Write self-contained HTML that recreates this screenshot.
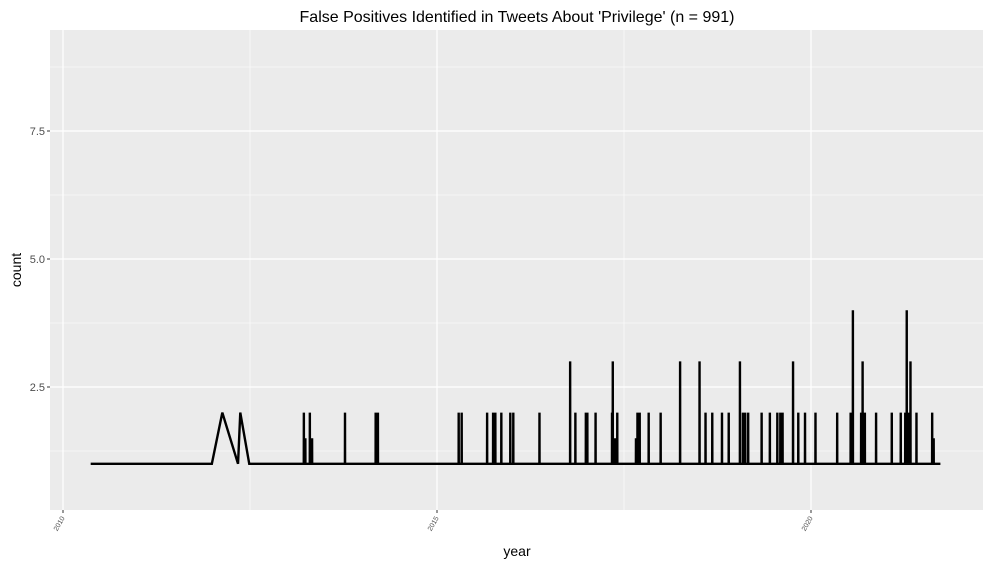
<!DOCTYPE html>
<html><head><meta charset="utf-8"><style>
body{margin:0;background:#fff;}
svg{display:block;font-family:"Liberation Sans",sans-serif;}
</style></head><body>
<svg id="chart" width="991" height="566"></svg>
<script>
const xTicks=[2010,2015,2020];
const xTickLabels=["2010","2015","2020"];
const yTicks=[2.5,5.0,7.5];
const yTickLabels=["2.5","5.0","7.5"];
const baseDates=[2010.37,2011.99,2012.13,2012.34,2012.37,2012.49];
const baseCounts=[1,1,2,1,2,1];
const spikeDates=[2013.22,2013.24,2013.30,2013.33,2013.77,2014.18,2014.21,2015.29,2015.33,2015.67,2015.75,2015.78,2015.86,2015.98,2016.02,2016.37,2016.78,2016.85,2016.99,2017.01,2017.12,2017.34,2017.35,2017.38,2017.41,2017.66,2017.68,2017.71,2017.83,2017.99,2018.25,2018.51,2018.59,2018.68,2018.81,2018.90,2019.05,2019.09,2019.12,2019.16,2019.34,2019.45,2019.55,2019.59,2019.62,2019.76,2019.83,2019.92,2020.06,2020.35,2020.53,2020.56,2020.67,2020.69,2020.72,2020.87,2021.08,2021.20,2021.26,2021.28,2021.31,2021.33,2021.41,2021.62,2021.64];
const spikeCounts=[2,1.5,2,1.5,2,2,2,2,2,2,2,2,2,2,2,2,3,2,2,2,2,2,3,1.5,2,1.5,2,2,2,2,3,3,2,2,2,2,3,2,2,2,2,2,2,2,2,3,2,2,2,2,2,4,2,3,2,2,2,2,2,4,2,3,2,2,1.5];
const endDate=2021.73;

const NS="http://www.w3.org/2000/svg";
const svg=document.getElementById('chart');
const P={l:50,r:983,t:30,b:510};
const X=y=>63+(y-2010)*74.8;
const Y=v=>463.8-(v-1)*51.2;
function mk(tag,attrs,parent){const e=document.createElementNS(NS,tag);for(const k in attrs)e.setAttribute(k,attrs[k]);(parent||svg).appendChild(e);return e;}

const bg=mk('rect',{x:P.l,y:P.t,width:P.r-P.l,height:P.b-P.t,fill:'#ebebeb'});


[2012.5,2017.5].forEach(v=>{const l=mk('line',{x1:X(v),x2:X(v),y1:P.t,y2:P.b,stroke:'#fff','stroke-width':0.6});});
[1.25,3.75,6.25,8.75].forEach(v=>{const l=mk('line',{x1:P.l,x2:P.r,y1:Y(v),y2:Y(v),stroke:'#fff','stroke-width':0.6});});
xTicks.forEach((v,i)=>{
 const l=mk('line',{x1:X(v),x2:X(v),y1:P.t,y2:P.b,stroke:'#fff','stroke-width':1.2});
 
 
 mk('line',{x1:X(v),x2:X(v),y1:P.b,y2:P.b+3,stroke:'#333','stroke-width':1});
 const t=mk('text',{x:X(v)+2,y:P.b+8,'font-size':7,fill:'#4d4d4d','text-anchor':'end',transform:`rotate(-60 ${X(v)+2} ${P.b+8})`});
 t.textContent=xTickLabels[i];
 
 
});
yTicks.forEach((v,i)=>{
 const l=mk('line',{x1:P.l,x2:P.r,y1:Y(v),y2:Y(v),stroke:'#fff','stroke-width':1.2});
 
 
 mk('line',{x1:P.l-3,x2:P.l,y1:Y(v),y2:Y(v),stroke:'#333','stroke-width':1});
 const t=mk('text',{x:P.l-5,y:Y(v)+4,'font-size':11,fill:'#4d4d4d','text-anchor':'end'});
 t.textContent=yTickLabels[i];
 
 
});
let pts=[];
baseDates.forEach((d,i)=>pts.push([d,baseCounts[i]]));
spikeDates.forEach((d,i)=>{pts.push([d-0.001,1]);pts.push([d,spikeCounts[i]]);pts.push([d+0.001,1]);});
pts.push([endDate,1]);
pts.sort((a,b)=>a[0]-b[0]);
const path=mk('path',{d:pts.map((p,i)=>(i?'L':'M')+X(p[0]).toFixed(2)+' '+Y(p[1]).toFixed(2)).join(' '),fill:'none',stroke:'#000','stroke-width':2.4,'stroke-linejoin':'miter'});



const title=mk('text',{x:517,y:22,'font-size':16,fill:'#000','text-anchor':'middle'});
title.textContent="False Positives Identified in Tweets About 'Privilege' (n = 991)";


const xt=mk('text',{x:517,y:556,'font-size':14,fill:'#000','text-anchor':'middle'});
xt.textContent='year';


const yt=mk('text',{x:21,y:270,'font-size':14,fill:'#000','text-anchor':'middle',transform:'rotate(-90 21 270)'});
yt.textContent='count';


</script>
</body></html>
